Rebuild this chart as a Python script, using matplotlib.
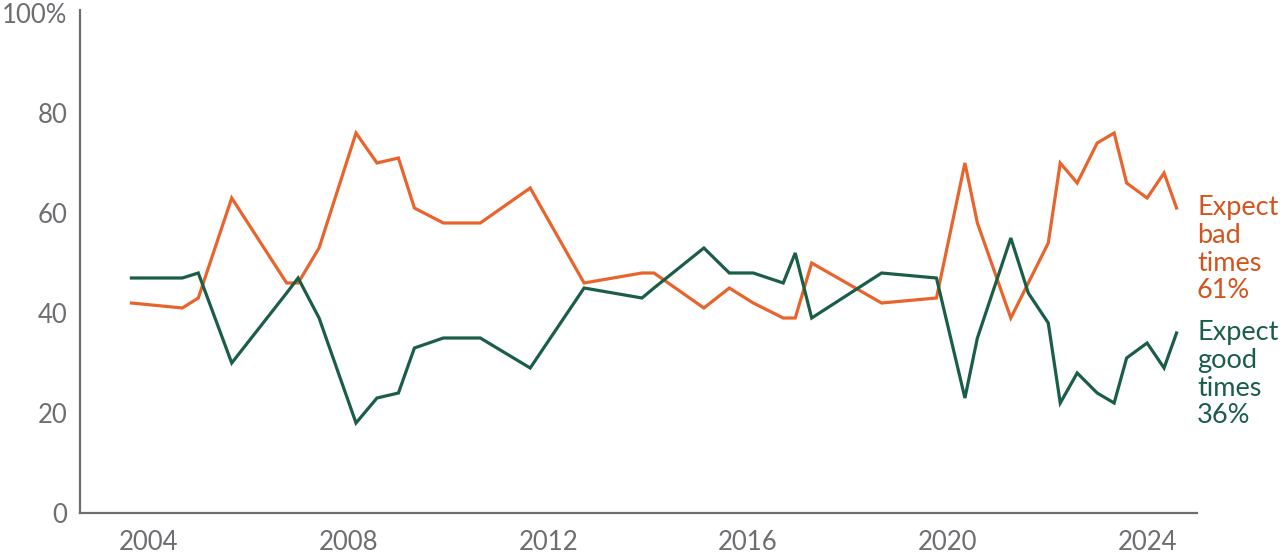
import matplotlib
matplotlib.use("Agg")
import matplotlib.pyplot as plt

# Survey dates (decimal years)
dates = [2003.65, 2004.67, 2004.99, 2005.66, 2006.76, 2006.99, 2007.41, 2008.15,
         2008.57, 2009.00, 2009.32, 2009.90, 2010.64, 2011.64, 2012.72, 2013.88,
         2014.12, 2015.12, 2015.63, 2016.11, 2016.71, 2016.95, 2017.28, 2018.68,
         2019.78, 2020.35, 2020.60, 2021.27, 2021.62, 2022.02, 2022.26, 2022.60,
         2023.00, 2023.34, 2023.59, 2024.00, 2024.34, 2024.59]

bad_times = [42, 41, 43, 63, 46, 46, 53, 76,
             70, 71, 61, 58, 58, 65, 46, 48,
             48, 41, 45, 42, 39, 39, 50, 42,
             43, 70, 58, 39, 46, 54, 70, 66,
             74, 76, 66, 63, 68, 61]

good_times = [47, 47, 48, 30, 44, 47, 39, 18,
              23, 24, 33, 35, 35, 29, 45, 43,
              45, 53, 48, 48, 46, 52, 39, 48,
              47, 23, 35, 55, 44, 38, 22, 28,
              24, 22, 31, 34, 29, 36]

x_ticks = [2004, 2008, 2012, 2016, 2020, 2024]
y_ticks = [0, 20, 40, 60, 80, 100]
y_tick_labels = ["0", "20", "40", "60", "80", "100%"]

ORANGE = "#E8642C"
ORANGE_TXT = "#D4541E"
GREEN = "#1B5E46"
GREY = "#6D6E71"

plt.rcParams['font.family'] = ['Lato', 'DejaVu Sans']

fig = plt.figure(figsize=(12.8, 5.56), dpi=100)
ax = fig.add_axes([80/1280, 43/556, (1197-80)/1280, (513-10)/556])

ax.plot(dates, bad_times, color=ORANGE, lw=2.3, solid_joinstyle='miter', clip_on=False)
ax.plot(dates, good_times, color=GREEN, lw=2.3, solid_joinstyle='miter', clip_on=False)

ax.set_xlim(2002.62, 2025.0)
ax.set_ylim(0, 100.6)
ax.set_xticks(x_ticks)
ax.set_xticklabels([str(t) for t in x_ticks])
ax.set_yticks(y_ticks)
ax.set_yticklabels(y_tick_labels)

for s in ['top', 'right']:
    ax.spines[s].set_visible(False)
for s in ['left', 'bottom']:
    ax.spines[s].set_color(GREY)
    ax.spines[s].set_linewidth(1.6)

ax.tick_params(axis='both', length=0, labelsize=18.5, colors=GREY)
ax.tick_params(axis='y', pad=9)
ax.tick_params(axis='x', pad=12)

# End labels
ax.text(1.0, (513-195)/5/100.6, "Expect\nbad\ntimes\n61%", transform=ax.transAxes,
        color=ORANGE_TXT, fontsize=19.5, va='top', ha='left', linespacing=1.14)
ax.text(1.0, (513-320)/5/100.6, "Expect\ngood\ntimes\n36%", transform=ax.transAxes,
        color=GREEN, fontsize=19.5, va='top', ha='left', linespacing=1.14)

fig.savefig("out.png", dpi=100)
